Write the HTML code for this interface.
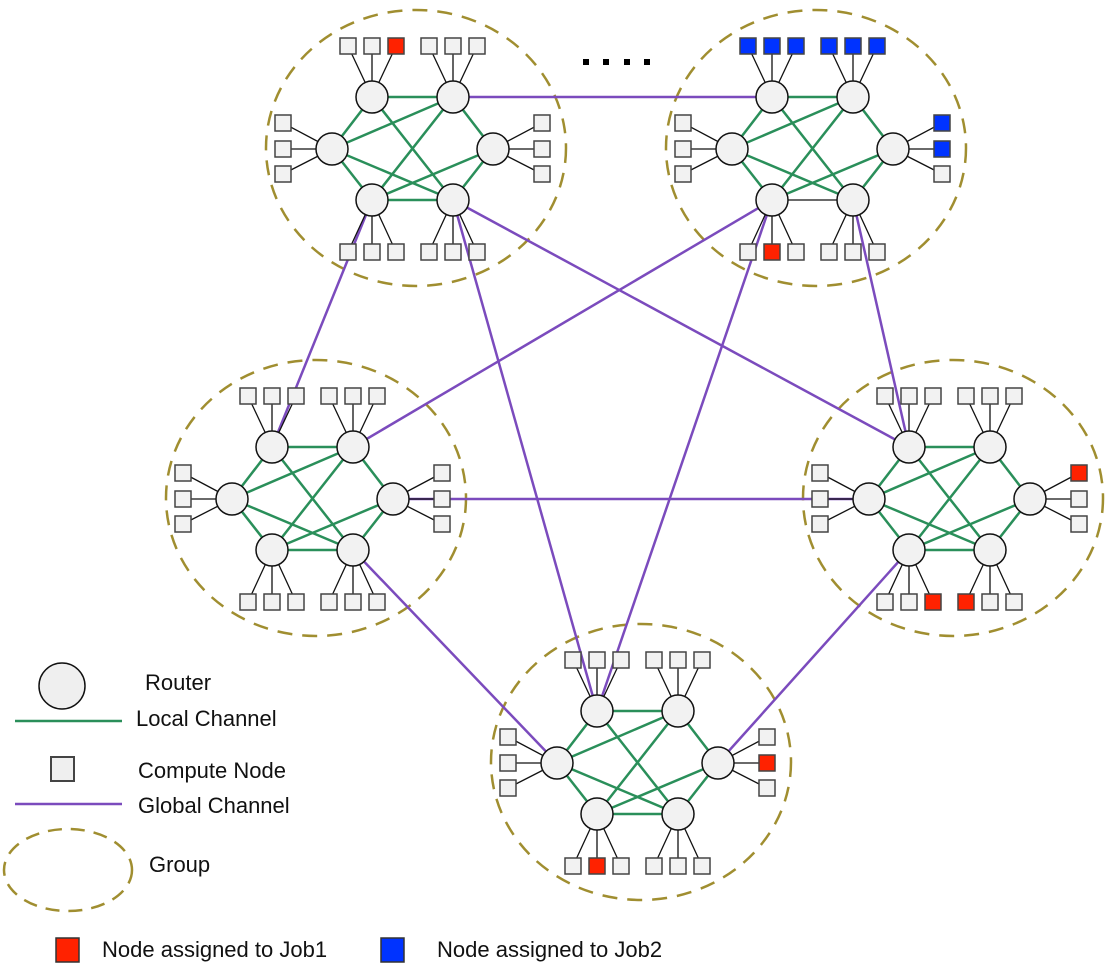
<!DOCTYPE html>
<html><head><meta charset="utf-8">
<style>
html,body{margin:0;padding:0;background:#fff;}
svg{display:block;}
text{font-family:"Liberation Sans",sans-serif;font-size:22px;fill:#111;}
</style></head>
<body>
<svg id="s" width="1106" height="970" viewBox="0 0 1106 970" xmlns="http://www.w3.org/2000/svg">
<g id="ell"></g>
<g id="loc"></g>
<g id="glob"></g>
<g id="top"></g>
<rect x="583" y="59" width="6" height="6" fill="#000"/>
<rect x="603" y="59" width="6" height="6" fill="#000"/>
<rect x="624" y="59" width="6" height="6" fill="#000"/>
<rect x="644" y="59" width="6" height="6" fill="#000"/>
<circle cx="62" cy="686" r="23" fill="#efefef" stroke="#111" stroke-width="1.5"/>
<text x="145" y="690">Router</text>
<line x1="15" y1="721" x2="122" y2="721" stroke="#2a8f5a" stroke-width="2.5"/>
<text x="136" y="726">Local Channel</text>
<rect x="51" y="757" width="23" height="24" fill="#efefef" stroke="#444" stroke-width="2"/>
<text x="138" y="778">Compute Node</text>
<line x1="15" y1="804" x2="122" y2="804" stroke="#7b4bbd" stroke-width="2.5"/>
<text x="138" y="813">Global Channel</text>
<ellipse cx="68" cy="870" rx="64" ry="41" fill="none" stroke="#a08e30" stroke-width="2.5" stroke-dasharray="14,9"/>
<text x="149" y="872">Group</text>
<rect x="56" y="938" width="23" height="24" fill="#ff2200" stroke="#333" stroke-width="1.5"/>
<text x="102" y="957">Node assigned to Job1</text>
<rect x="381" y="938" width="23" height="24" fill="#0033ff" stroke="#333" stroke-width="1.5"/>
<text x="437" y="957">Node assigned to Job2</text>
</svg>
<script>
var NS="http://www.w3.org/2000/svg";
function el(p,t,a){var e=document.createElementNS(NS,t);for(var k in a)e.setAttribute(k,a[k]);document.getElementById(p).appendChild(e);return e;}
var R=[[-44,-51],[37,-51],[-84,1],[77,1],[-44,52],[37,52]];
var E=[[0,1],[0,2],[0,5],[1,2],[1,4],[1,3],[2,4],[2,5],[3,4],[3,5],[4,5]];
var TX=[-68,-44,-20,13,37,61], SY=[-25,1,26];
var RED="#ff2200",BLUE="#0033ff";
var groups=[
 {c:[416,148],top:{2:RED},bot:{},left:{},right:{}},
 {c:[816,148],top:{0:BLUE,1:BLUE,2:BLUE,3:BLUE,4:BLUE,5:BLUE},bot:{1:RED},left:{},right:{0:BLUE,1:BLUE},black:true},
 {c:[316,498],top:{},bot:{},left:{},right:{}},
 {c:[953,498],top:{},bot:{2:RED,3:RED},left:{},right:{0:RED}},
 {c:[641,762],top:{},bot:{1:RED},left:{},right:{1:RED}}
];
function rp(g,i){return [groups[g].c[0]+R[i][0],groups[g].c[1]+R[i][1]];}
groups.forEach(function(g,gi){
 var cx=g.c[0],cy=g.c[1];
 el("ell","ellipse",{cx:cx,cy:cy,rx:150,ry:138,fill:"none",stroke:"#a08e30","stroke-width":2.5,"stroke-dasharray":"15,10"});
 E.forEach(function(e,ei){var a=rp(gi,e[0]),b=rp(gi,e[1]);
  var blk=g.black&&ei==10;
  el("loc","line",{x1:a[0],y1:a[1],x2:b[0],y2:b[1],stroke:blk?"#111":"#2a8f5a","stroke-width":blk?1.3:2.5});});
 var sqs=[];
 TX.forEach(function(dx,i){var r=rp(gi,i<3?0:1);sqs.push([cx+dx,cy-102,g.top[i],r[0],r[1]]);});
 TX.forEach(function(dx,i){var r=rp(gi,i<3?4:5);sqs.push([cx+dx,cy+104,g.bot[i],r[0],r[1]]);});
 SY.forEach(function(dy,i){var r=rp(gi,2);sqs.push([cx-133,cy+dy,g.left[i],r[0],r[1]]);});
 SY.forEach(function(dy,i){var r=rp(gi,3);sqs.push([cx+126,cy+dy,g.right[i],r[0],r[1]]);});
 g.sqs=sqs;
});
var G=[[0,1,1,0],[0,4,2,0],[0,5,4,0],[0,5,3,0],[1,4,2,1],[1,4,4,0],[1,5,3,0],[2,3,3,2],[2,5,4,2],[3,4,4,3]];
G.forEach(function(l){var a=rp(l[0],l[1]),b=rp(l[2],l[3]);
 el("glob","line",{x1:a[0],y1:a[1],x2:b[0],y2:b[1],stroke:"#7b4bbd","stroke-width":2.5});});
groups.forEach(function(g,gi){
 g.sqs.forEach(function(s){
  el("top","line",{x1:s[0],y1:s[1],x2:s[3],y2:s[4],stroke:"#111","stroke-width":1.3});
 });
});
groups.forEach(function(g,gi){
 g.sqs.forEach(function(s){
  el("top","rect",{x:s[0]-8,y:s[1]-8,width:16,height:16,fill:s[2]||"#f2f2f2",stroke:"#444","stroke-width":1.5});
 });
 for(var i=0;i<6;i++){var p=rp(gi,i);
  el("top","circle",{cx:p[0],cy:p[1],r:16,fill:"#f2f2f2",stroke:"#111","stroke-width":1.5});}
});
</script>
</body></html>
